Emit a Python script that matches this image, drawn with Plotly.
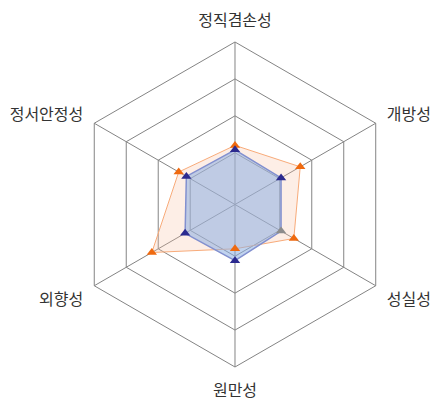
import plotly.graph_objects as go

# traits, clockwise from the top
categories = ['정직겸손성', '개방성', '성실성', '원만성', '외향성', '정서안정성']
orange_values = [30, 41, 36, 20, 55, 34]
blue_values = [27, 26, 26, 28, 29, 28]
grid_ticks = [25, 50, 75, 100]


def closed(vals):
    # repeat the first point so the outline closes
    return list(vals) + [vals[0]]


theta = closed(categories)
blue_marker_colors = ['#2b2a8f'] * len(categories)
blue_marker_colors[2] = '#8c8c8c'

fig = go.Figure()
# fills first so every marker sits on top of both areas
fig.add_trace(go.Scatterpolar(
    r=closed(orange_values), theta=theta, mode='lines',
    fill='toself', fillcolor='rgba(248,190,160,0.26)',
    line=dict(color='#f8ab7a', width=1), hoverinfo='skip'))
fig.add_trace(go.Scatterpolar(
    r=closed(blue_values), theta=theta, mode='lines',
    fill='toself', fillcolor='rgba(140,175,225,0.55)',
    line=dict(color='#8290cf', width=1.5), hoverinfo='skip'))
fig.add_trace(go.Scatterpolar(
    r=orange_values, theta=categories, mode='markers',
    marker=dict(symbol='triangle-up', size=9, color='#ef6a10'),
    hoverinfo='skip'))
fig.add_trace(go.Scatterpolar(
    r=blue_values, theta=categories, mode='markers',
    marker=dict(symbol='triangle-up', size=9, color=blue_marker_colors),
    hoverinfo='skip'))

fig.update_layout(
    width=446, height=408, autosize=False,
    margin=dict(l=0, r=0, t=0, b=0),
    paper_bgcolor='white',
    showlegend=False,
    font=dict(family='Noto Sans CJK KR', size=16, color='#333333'),
    polar=dict(
        domain=dict(x=[0.1446, 0.8733], y=[0.1201, 0.9167]),
        bgcolor='white',
        gridshape='linear',
        radialaxis=dict(range=[-10, 100], tickvals=grid_ticks,
                        showticklabels=False, ticks='', showline=False,
                        gridcolor='#848484', gridwidth=1),
        angularaxis=dict(direction='clockwise', rotation=90,
                         showline=True, linecolor='#848484', linewidth=1,
                         gridcolor='#848484', ticks='outside', ticklen=9,
                         tickcolor='rgba(0,0,0,0)',
                         tickfont=dict(size=16, color='#333333')),
    ),
)

fig.write_html('out.html')
